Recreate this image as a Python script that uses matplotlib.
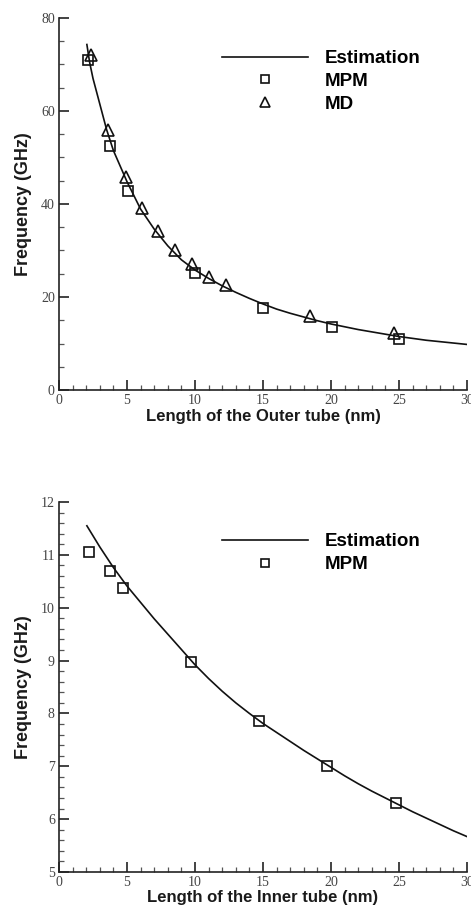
import matplotlib.pyplot as plt
from matplotlib.ticker import MultipleLocator

# outer tube: estimation curve
outer_est_len = [2.05, 2.25, 2.5, 3, 3.5, 4, 5, 6, 7, 8, 9, 10, 11, 12, 13, 14,
                 15, 16, 17, 18, 19, 20, 21, 22, 23, 24, 25, 26, 27, 28, 29, 30]
outer_est_freq = [74.3, 70.5, 67.0, 61.5, 56.0, 51.5, 44.8, 38.9, 34.6, 31.0,
                  28.0, 25.8, 24.0, 22.4, 21.0, 19.7, 18.5, 17.4, 16.5, 15.7,
                  14.9, 14.2, 13.6, 13.0, 12.5, 12.0, 11.5, 11.1, 10.7, 10.4,
                  10.1, 9.8]

outer_mpm_len = [2.15, 3.75, 5.05, 10.0, 15.0, 20.05, 25.0]
outer_mpm_freq = [71.0, 52.5, 42.8, 25.1, 17.6, 13.6, 11.0]

outer_md_len = [2.35, 3.62, 4.9, 6.12, 7.3, 8.53, 9.75, 11.05, 12.28, 18.45, 24.6]
outer_md_freq = [72.0, 55.9, 45.9, 39.1, 34.3, 30.1, 27.2, 24.4, 22.6, 16.0, 12.3]

# inner tube
inner_est_len = [2.05, 3, 4, 5, 6, 7, 8, 9, 10, 11, 12, 13, 14, 15, 16, 17,
                 18, 19, 20, 21, 22, 23, 24, 25, 26, 27, 28, 29, 30]
inner_est_freq = [11.55, 11.15, 10.76, 10.41, 10.10, 9.79, 9.50, 9.21, 8.92,
                  8.66, 8.42, 8.20, 8.00, 7.81, 7.64, 7.47, 7.30, 7.14, 6.98,
                  6.82, 6.67, 6.53, 6.40, 6.27, 6.14, 6.02, 5.90, 5.78, 5.67]

inner_mpm_len = [2.23, 3.75, 4.73, 9.7, 14.73, 19.7, 24.75]
inner_mpm_freq = [11.06, 10.70, 10.38, 8.97, 7.86, 7.00, 6.30]

label_font = dict(family='Liberation Sans', weight='bold', color='#1a1a1a')
legend_font = dict(family='Liberation Sans', weight='bold', size=13.5)


def style_axes(ax, ymin, ymax, ymaj, ymin_step):
    ax.set_xlim(0, 30)
    ax.set_ylim(ymin, ymax)
    ax.spines['top'].set_visible(False)
    ax.spines['right'].set_visible(False)
    for s in ('left', 'bottom'):
        ax.spines[s].set_linewidth(1.2)
        ax.spines[s].set_color('#222222')
    ax.xaxis.set_major_locator(MultipleLocator(5))
    ax.xaxis.set_minor_locator(MultipleLocator(1))
    ax.yaxis.set_major_locator(MultipleLocator(ymaj))
    ax.yaxis.set_minor_locator(MultipleLocator(ymin_step))
    ax.tick_params(which='major', direction='in', length=7, width=1.2,
                   color='#222222', labelsize=10, labelcolor='#444444', pad=3)
    ax.tick_params(which='minor', direction='in', length=3.5, width=0.9,
                   color='#555555')
    for lab in ax.get_xticklabels() + ax.get_yticklabels():
        lab.set_family('Liberation Serif')


fig = plt.figure(figsize=(4.71, 9.05), dpi=100)
ax1 = fig.add_axes([59 / 471, 1 - 390 / 905, 408 / 471, 372 / 905])
ax2 = fig.add_axes([59 / 471, 1 - 872 / 905, 408 / 471, 370 / 905])

# top panel
ax1.plot(outer_est_len, outer_est_freq, color='#111111', lw=1.2, label='Estimation')
ax1.plot(outer_mpm_len, outer_mpm_freq, ls='none', marker='s', ms=7.5,
         mfc='none', mec='#111111', mew=1.2, label='MPM')
ax1.plot(outer_md_len, outer_md_freq, ls='none', marker='^', ms=8.5,
         mfc='none', mec='#111111', mew=1.2, label='MD')
style_axes(ax1, 0, 80, 20, 5)
ax1.set_xlabel('Length of the Outer tube (nm)', fontsize=12, **label_font)
ax1.set_ylabel('Frequency (GHz)', fontsize=13, **label_font)
ax1.xaxis.set_label_coords(0.5, -0.052)
ax1.yaxis.set_label_coords(-0.065, 0.5)
ax1.legend(loc='upper left', bbox_to_anchor=(0.3995, 0.914), frameon=False,
           borderaxespad=0, borderpad=0, handlelength=4.6, handletextpad=0.9,
           labelspacing=0.31, markerscale=0.85, prop=legend_font)

# bottom panel
ax2.plot(inner_est_len, inner_est_freq, color='#111111', lw=1.2, label='Estimation')
ax2.plot(inner_mpm_len, inner_mpm_freq, ls='none', marker='s', ms=7.5,
         mfc='none', mec='#111111', mew=1.2, label='MPM')
style_axes(ax2, 5, 12, 1, 0.2)
ax2.set_xlabel('Length of the Inner tube (nm)', fontsize=12, **label_font)
ax2.set_ylabel('Frequency (GHz)', fontsize=13, **label_font)
ax2.xaxis.set_label_coords(0.5, -0.049)
ax2.yaxis.set_label_coords(-0.065, 0.5)
ax2.legend(loc='upper left', bbox_to_anchor=(0.3995, 0.916), frameon=False,
           borderaxespad=0, borderpad=0, handlelength=4.6, handletextpad=0.9,
           labelspacing=0.31, markerscale=0.85, prop=legend_font)

fig.savefig('out.png', dpi=100)
